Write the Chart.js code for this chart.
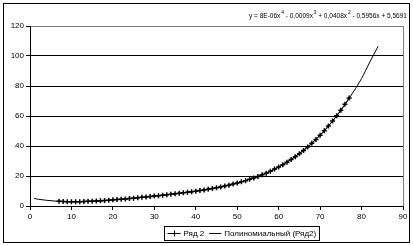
<!DOCTYPE html>
<html>
<head>
<meta charset="utf-8">
<script src="https://cdn.jsdelivr.net/npm/chart.js@4/dist/chart.umd.min.js"></script>
<style>
  html, body { margin: 0; padding: 0; background: #fff; }
  #wrap { width: 413px; height: 246px; }
</style>
</head>
<body>
<div id="wrap"><canvas id="polyChart" width="413" height="246"></canvas></div>
<script>
// Series "Ряд 2" - measured points
const seriesX = [
  7, 8, 9, 10, 11, 12, 13, 14, 15, 16, 17, 18, 19, 20, 21, 22, 23, 24,
  25, 26, 27, 28, 29, 30, 31, 32, 33, 34, 35, 36, 37, 38, 39, 40, 41, 42,
  43, 44, 45, 46, 47, 48, 49, 50, 51, 52, 53, 54, 55, 56, 57, 58, 59, 60,
  61, 62, 63, 64, 65, 66, 67, 68, 69, 70, 71, 72, 73, 74, 75, 76, 77
];
const seriesY = [
  3.1, 3.0, 2.9, 2.9, 2.9, 2.9, 3.0, 3.1, 3.2, 3.3, 3.5, 3.6, 3.8, 4.1, 4.3, 4.5, 4.7, 5.0,
  5.2, 5.5, 5.8, 6.0, 6.3, 6.6, 6.9, 7.2, 7.5, 7.8, 8.1, 8.5, 8.8, 9.2, 9.5, 9.9, 10.3, 10.7,
  11.2, 11.7, 12.2, 12.7, 13.3, 13.9, 14.6, 15.3, 16.1, 16.9, 17.8, 18.7, 19.7, 20.8, 21.9, 23.2, 24.6, 26.0,
  27.5, 29.2, 31.0, 32.9, 34.9, 37.0, 39.3, 41.8, 44.4, 47.2, 50.1, 53.3, 56.6, 60.1, 63.8, 67.8, 72.0
];

// Polynomial trendline
const trendX = [1, 2, 4, 6, 8, 10, 12, 14, 16, 18, 20, 22, 24, 26, 28, 30, 32, 34, 36, 38, 40, 42,
  44, 46, 48, 50, 52, 54, 56, 58, 60, 62, 64, 66, 68, 70, 72, 74, 76, 78, 80, 82, 84];
const trendY = [5.0, 4.5, 3.8, 3.3, 3.0, 2.9, 2.9, 3.05, 3.3, 3.6, 4.05, 4.5, 5.0, 5.5, 6.0, 6.6, 7.2, 7.8,
  8.45, 9.15, 9.9, 10.75, 11.7, 12.75, 13.95, 15.3, 16.9, 18.7, 20.75, 23.1, 26.0, 29.3, 33.0, 37.2,
  41.8, 47.2, 53.3, 60.1, 67.7, 76.0, 85.0, 96.0, 106.5];

const xTicks = [0, 10, 20, 30, 40, 50, 60, 70, 80, 90];
const yTicks = [0, 20, 40, 60, 80, 100, 120];

const seriesName = 'Ряд 2';
const trendName = 'Полиномиальный (Ряд2)';
// equation pieces: [text, superscript]
const equationParts = [
  ['y = 8E-06x', '4'], [' - 0,0009x', '3'], [' + 0,0408x', '2'], [' - 0,5956x + 5,5691', '']
];

const FONT = '"Liberation Sans", Arial, sans-serif';

// frame, equation and boxed legend
const extras = {
  id: 'extras',
  afterDraw(chart) {
    const ctx = chart.ctx;
    ctx.save();
    ctx.strokeStyle = '#000';
    ctx.lineWidth = 1;
    ctx.strokeRect(3.5, 3.5, 406, 239);

    ctx.fillStyle = '#000';
    ctx.textBaseline = 'alphabetic';
    ctx.textAlign = 'left';

    // equation, squeezed into the width it takes in the original
    let eqW = 0;
    equationParts.forEach(p => {
      ctx.font = '8px ' + FONT;
      eqW += ctx.measureText(p[0]).width;
      ctx.font = '6px ' + FONT;
      eqW += p[1] ? ctx.measureText(p[1]).width + 1 : 0;
    });
    const eqTarget = 158;
    ctx.save();
    ctx.translate(407 - eqTarget, 18);
    ctx.scale(eqTarget / eqW, 1);
    let ex = 0;
    equationParts.forEach(p => {
      ctx.font = '8px ' + FONT;
      ctx.fillText(p[0], ex, 0);
      ex += ctx.measureText(p[0]).width;
      if (p[1]) {
        ctx.font = '6px ' + FONT;
        ctx.fillText(p[1], ex + 1, -4);
        ex += ctx.measureText(p[1]).width + 1;
      }
    });
    ctx.restore();

    // legend, laid out from measured text widths
    ctx.textBaseline = 'middle';
    ctx.font = '8px ' + FONT;
    const w1 = ctx.measureText(seriesName).width;
    const w2 = ctx.measureText(trendName).width;
    const total = 3 + 13 + 3 + w1 + 5 + 12 + 3 + w2 + 3;
    const bx = Math.round(241.5 - total / 2) + 0.5;
    ctx.strokeRect(bx, 226.5, Math.round(total), 14);
    const ly = 233.5;
    let x = bx + 3;
    ctx.beginPath();
    ctx.moveTo(x, ly); ctx.lineTo(x + 13, ly);
    ctx.moveTo(Math.round(x + 6.5) + 0.5, ly - 3); ctx.lineTo(Math.round(x + 6.5) + 0.5, ly + 3);
    ctx.stroke();
    x += 16;
    ctx.fillText(seriesName, x, ly);
    x += w1 + 5;
    ctx.beginPath();
    ctx.moveTo(x, ly); ctx.lineTo(x + 12, ly);
    ctx.stroke();
    x += 15;
    ctx.fillText(trendName, x, ly);
    ctx.restore();
  }
};

const ctx = document.getElementById('polyChart').getContext('2d');
new Chart(ctx, {
  type: 'scatter',
  data: {
    datasets: [
      {
        label: trendName,
        data: trendX.map((x, i) => ({ x: x, y: trendY[i] })),
        showLine: true,
        borderColor: '#000',
        borderWidth: 1,
        pointRadius: 0,
        cubicInterpolationMode: 'monotone'
      },
      {
        label: seriesName,
        data: seriesX.map((x, i) => ({ x: x, y: seriesY[i] })),
        showLine: true,
        borderColor: '#000',
        backgroundColor: '#000',
        borderWidth: 1,
        pointStyle: 'cross',
        pointRadius: 2.5,
        pointBorderWidth: 1.5
      }
    ]
  },
  options: {
    responsive: false,
    animation: false,
    layout: { padding: { left: 0, right: 10, top: 26, bottom: 26 } },
    plugins: {
      legend: { display: false },
      tooltip: { enabled: false }
    },
    scales: {
      x: {
        type: 'linear',
        min: 0,
        max: 90,
        afterBuildTicks: s => { s.ticks = xTicks.map(v => ({ value: v })); },
        afterFit: s => { s.height = 14; },
        grid: {
          color: c => c.tick && c.tick.value === 90 ? '#808080' : 'rgba(0,0,0,0)',
          tickColor: '#000',
          tickLength: 4
        },
        border: { color: '#000' },
        ticks: { color: '#000', padding: 2, maxRotation: 0, font: { family: FONT, size: 8 } }
      },
      y: {
        min: 0,
        max: 120,
        afterBuildTicks: s => { s.ticks = yTicks.map(v => ({ value: v })); },
        afterFit: s => { s.width = 30; },
        grid: {
          color: c => c.tick && c.tick.value === 120 ? '#808080' : '#000',
          tickColor: '#000',
          tickLength: 4
        },
        border: { color: '#000' },
        ticks: { color: '#000', padding: 2, font: { family: FONT, size: 8 } }
      }
    }
  },
  plugins: [extras]
});
</script>
</body>
</html>
